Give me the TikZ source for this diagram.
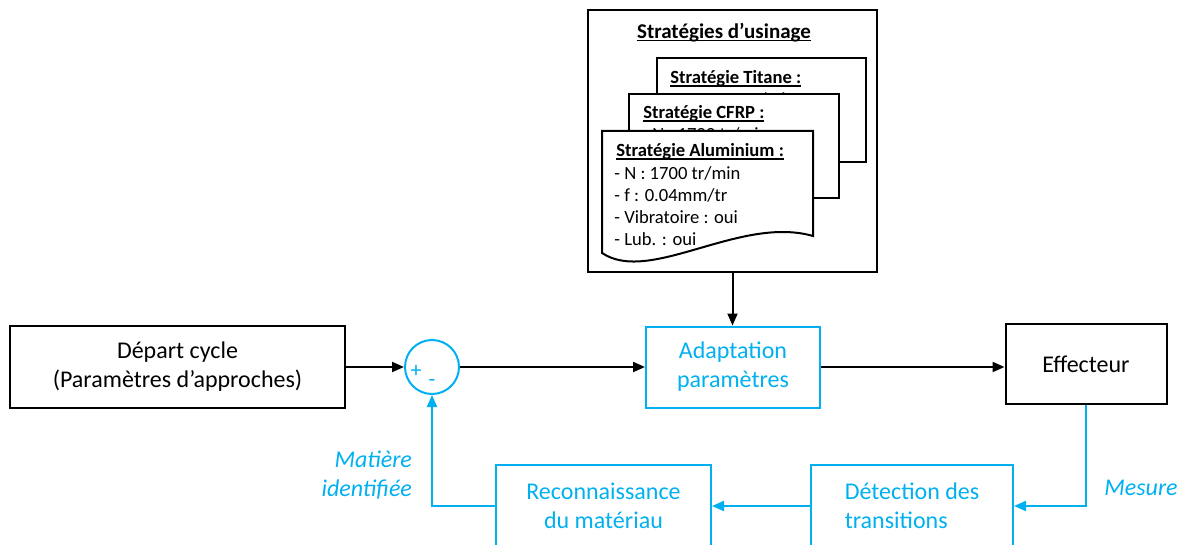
\documentclass[tikz,border=0pt]{standalone}
\usepackage{fontspec}
\setmainfont{Carlito}
\usetikzlibrary{arrows.meta,positioning}
\definecolor{cyanline}{RGB}{0,176,240}
\newcommand\docul[1]{\setbox0\hbox{#1}\rlap{\rule[-1.3pt]{\wd0}{0.6pt}}\box0}

\begin{document}
\begin{tikzpicture}[x=0.5pt, y=-0.5pt,
  box/.style={draw=black, line width=1pt, align=center, font=\fontsize{12}{14.5}\selectfont},
  bluebox/.style={box, draw=cyanline, text=cyanline},
  arr/.style={line width=1pt, -{Triangle[length=6pt,width=5pt]}},
  bluearr/.style={arr, draw=cyanline},
  doctext/.style={anchor=base west, inner sep=0pt, font=\fontsize{9.3}{11.3}\selectfont},
  doctitle/.style={doctext, font=\fontsize{9.3}{11.3}\selectfont\bfseries},
  lab/.style={text=cyanline, font=\fontsize{12}{14.5}\selectfont\itshape},
  sign/.style={text=cyanline, inner sep=0pt, font=\fontsize{11}{11}\selectfont}]
\useasboundingbox (0,0) rectangle (1183,545);
\clip (0,0) rectangle (1183,545);
\node[box, minimum width=144.5pt, minimum height=131pt] (strat) at (732.5,141) {};
\node[font=\fontsize{10.5}{12}\selectfont\bfseries] (strattitle) at (724,33) {\docul{Stratégies d’usinage}};
\filldraw[fill=white, line width=1pt] (657,58) rectangle (866,162);
\node[doctitle] (titane) at (670,84) {\docul{Stratégie Titane :}};
\node[doctext] (titaneN) at (669,106) {- N : 1700 tr/min};
\filldraw[fill=white, line width=1pt] (629,94) rectangle (839,198);
\node[doctitle] (cfrp) at (643,119) {\docul{Stratégie CFRP :}};
\node[doctext] (cfrpN) at (642,141) {- N : 1700 tr/min};
\filldraw[fill=white, line width=1pt] (602,253) -- (602,131) -- (813,131) -- (813,236) .. controls (740,215) and (650,285) .. cycle;
\node[doctitle] (alu) at (616,157) {\docul{Stratégie Aluminium :}};
\node[doctext] (aluN) at (614,180) {- N : 1700 tr/min};
\node[doctext] (aluf) at (614,202) {- f : 0.04mm/tr};
\node[doctext] (aluvib) at (614,224) {- Vibratoire : oui};
\node[doctext] (alulub) at (614,246) {- Lub. : oui};
\node[box, minimum width=167.5pt, minimum height=41pt] (depart) at (177.5,367) {Départ cycle\\(Paramètres d’approches)};
\node[circle, draw=cyanline, line width=1pt, minimum size=27pt, inner sep=0pt] (sum) at (432,367) {};
\node[sign] (plus) at (416,371) {+};
\node[sign] (minus) at (432,383) {-};
\node[bluebox, minimum width=87pt, minimum height=40.5pt] (adapt) at (733,367) {Adaptation\\paramètres};
\node[box, minimum width=80.5pt, minimum height=40pt] (effect) at (1086,364) {Effecteur};
\node[bluebox, align=left, minimum width=101pt, minimum height=41pt] (detect) at (912,506) {Détection des\\transitions};
\node[bluebox, minimum width=107.5pt, minimum height=41pt] (recog) at (603.5,506) {Reconnaissance\\du matériau};
\node[lab] (mesure) at (1141,488) {Mesure};
\node[lab, align=right, anchor=east] (matiere) at (419,475) {Matière\\identifiée};
\draw[arr] (depart.east) -- (sum.west);
\draw[arr] (sum.east) -- (adapt.west);
\draw[arr] (adapt.east) -- (adapt.east -| effect.west);
\draw[arr] (strat.south) -- (strat.south |- adapt.north);
\draw[bluearr] (effect.south) |- (detect.east);
\draw[bluearr] (detect.west) -- (recog.east);
\draw[bluearr] (recog.west) -| (sum.south);
\end{tikzpicture}
\end{document}
